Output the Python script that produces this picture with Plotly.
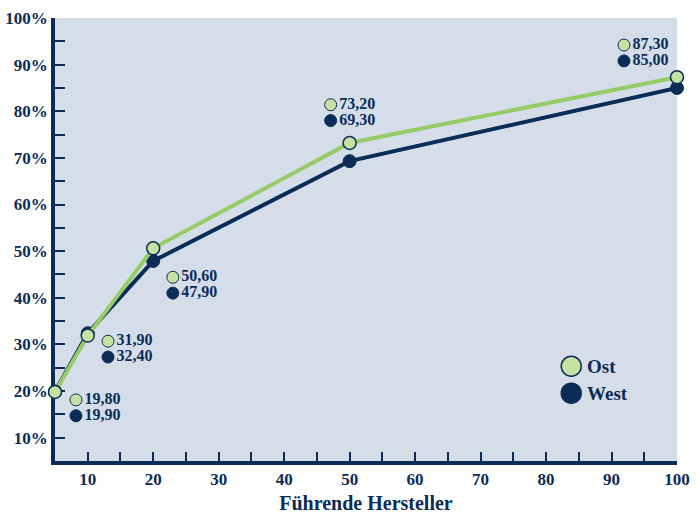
import plotly.graph_objects as go

# Marktanteil der führenden Hersteller (kumuliert), Ost vs. West
hersteller = [5, 10, 20, 50, 100]
ost = [19.80, 31.90, 50.60, 73.20, 87.30]
west = [19.90, 32.40, 47.90, 69.30, 85.00]

# Position der Wertebeschriftungen (Datenkoordinaten)
label_x = [8.2, 13.1, 23.0, 47.1, 91.9]
label_y_ost = [18.1, 30.7, 44.4, 81.4, 94.2]
label_y_west = [14.7, 27.3, 41.0, 78.0, 90.8]

y_ticks = [10, 20, 30, 40, 50, 60, 70, 80, 90, 100]
x_ticks = [10, 20, 30, 40, 50, 60, 70, 80, 90, 100]

NAVY = "#0b2c56"
GREEN_LINE = "#96cb66"
GREEN_FILL = "#c6e2a2"
BG = "#d5dde9"
FONT = "Liberation Serif"


def fmt(v):
    return f"{v:.2f}".replace(".", ",")


fig = go.Figure()

fig.add_trace(go.Scatter(
    x=hersteller, y=west, mode="lines+markers", name="West",
    line=dict(color=NAVY, width=4),
    marker=dict(size=13, color=NAVY, line=dict(color=NAVY, width=1)),
    cliponaxis=False, showlegend=False,
))
fig.add_trace(go.Scatter(
    x=hersteller, y=ost, mode="lines+markers", name="Ost",
    line=dict(color=GREEN_LINE, width=4),
    marker=dict(size=13, color=GREEN_FILL, line=dict(color=NAVY, width=1.5)),
    cliponaxis=False, showlegend=False,
))

label_font = dict(family=FONT, size=16, color=NAVY, weight="bold")
fig.add_trace(go.Scatter(
    x=label_x, y=label_y_ost, mode="markers+text",
    text=[fmt(v) for v in ost], textposition="middle right",
    textfont=label_font,
    marker=dict(size=12, color=GREEN_FILL, line=dict(color=NAVY, width=1)),
    cliponaxis=False, showlegend=False, hoverinfo="skip",
))
fig.add_trace(go.Scatter(
    x=label_x, y=label_y_west, mode="markers+text",
    text=[fmt(v) for v in west], textposition="middle right",
    textfont=label_font,
    marker=dict(size=12, color=NAVY, line=dict(color=NAVY, width=1)),
    cliponaxis=False, showlegend=False, hoverinfo="skip",
))

# Legende
legend_items = [("Ost", GREEN_FILL, 0.214), ("West", NAVY, 0.153)]
for name, fill, yy in legend_items:
    fig.add_shape(
        type="circle", xref="paper", yref="paper",
        xsizemode="pixel", ysizemode="pixel",
        xanchor=0.83, yanchor=yy,
        x0=-10, x1=10, y0=-10, y1=10,
        fillcolor=fill, line=dict(color=NAVY, width=1.5),
    )
    fig.add_annotation(
        x=0.83, y=yy, xref="paper", yref="paper",
        text=name, showarrow=False, xanchor="left", yanchor="middle",
        xshift=14, font=dict(family=FONT, size=19, color=NAVY, weight="bold"),
    )

tick_font = dict(family=FONT, size=17, color=NAVY, weight="bold")

fig.update_xaxes(
    range=[5, 100], tickvals=x_ticks, ticktext=[str(v) for v in x_ticks],
    ticks="inside", ticklen=9,
    tickwidth=1.5, tickcolor=NAVY, tickfont=tick_font,
    minor=dict(dtick=5, tick0=0, ticks="inside", ticklen=9, tickwidth=1.5, tickcolor=NAVY),
    showline=True, linewidth=3.5, linecolor=NAVY,
    showgrid=False, zeroline=False, layer="below traces", automargin=False,
    title=dict(text="Führende Hersteller", standoff=10,
               font=dict(family=FONT, size=20, color=NAVY, weight="bold")),
)
fig.update_yaxes(
    range=[5, 100], tickvals=y_ticks, ticktext=[f"{v}%" for v in y_ticks],
    ticks="inside", ticklen=10,
    tickwidth=1.5, tickcolor=NAVY, tickfont=tick_font,
    minor=dict(dtick=5, tick0=0, ticks="inside", ticklen=10, tickwidth=1.5, tickcolor=NAVY),
    showline=True, linewidth=3.5, linecolor=NAVY,
    showgrid=False, zeroline=False, layer="below traces", automargin=False,
)

fig.update_layout(
    width=697, height=514,
    margin=dict(l=55, r=20, t=18, b=53),
    plot_bgcolor=BG, paper_bgcolor="white",
    showlegend=False,
)

fig.write_html("out.html")
